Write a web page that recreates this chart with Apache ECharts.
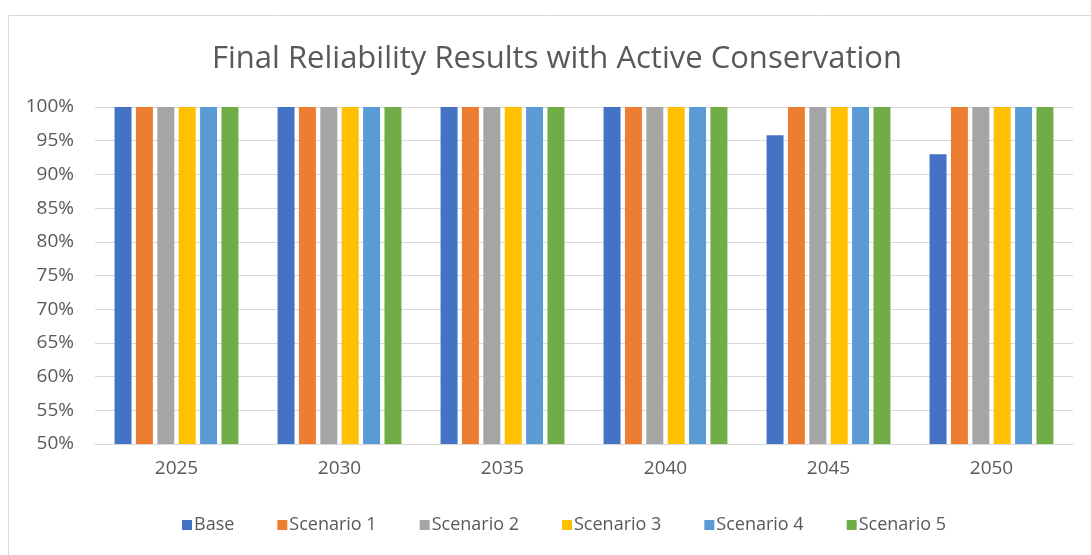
<!DOCTYPE html>
<html><head><meta charset="utf-8">
<script src="https://cdn.jsdelivr.net/npm/echarts@6/dist/echarts.min.js"></script>
<style>html,body{margin:0;padding:0;background:#fff}#c{width:1091px;height:555px}</style>
</head><body><div id="c"></div>
<script>
const categories = ['2025','2030','2035','2040','2045','2050'];
const seriesNames = ['Base','Scenario 1','Scenario 2','Scenario 3','Scenario 4','Scenario 5'];
const base = [1.00,1.00,1.00,1.00,0.958,0.930];
const scenario1 = [1,1,1,1,1,1];
const scenario2 = [1,1,1,1,1,1];
const scenario3 = [1,1,1,1,1,1];
const scenario4 = [1,1,1,1,1,1];
const scenario5 = [1,1,1,1,1,1];
const colors = ['#4472C4','#ED7D31','#A5A5A5','#FFC000','#5B9BD5','#70AD47'];
const allData = [base,scenario1,scenario2,scenario3,scenario4,scenario5];
const font = 'Open Sans';
const chart = echarts.init(document.getElementById('c'));
chart.setOption({
  animation:false,
  color:colors,
  title:{text:'Final Reliability Results with Active Conservation',left:207,top:39,
    textStyle:{fontFamily:font,fontSize:31,fontWeight:'normal',color:'#595959'}},
  graphic:[{type:'rect',shape:{x:8.5,y:15.5,width:1100,height:600},style:{fill:'none',stroke:'#d9d9d9',lineWidth:1},silent:true,z:-1}],
  legend:{top:511,left:177,itemWidth:10,itemHeight:10,itemGap:43,icon:'rect',
    textStyle:{fontFamily:font,fontSize:18,color:'#595959',padding:[0,0,0,-3]},data:seriesNames},
  grid:{left:95,right:18,top:107,height:337},
  xAxis:{type:'category',data:categories,axisTick:{show:false},
    axisLine:{lineStyle:{color:'#d9d9d9'}},
    axisLabel:{fontFamily:font,fontSize:19,color:'#595959',margin:15}},
  yAxis:{type:'value',min:0.5,max:1.0,interval:0.05,
    axisLabel:{fontFamily:font,fontSize:19,color:'#595959',margin:21,
      formatter:v=>Math.round(v*100)+'%'},
    splitLine:{lineStyle:{color:'#d9d9d9'}},axisLine:{show:false},axisTick:{show:false}},
  series:seriesNames.map((n,i)=>({name:n,type:'bar',data:allData[i],
    barGap:'26%',barCategoryGap:'24%'}))
});
</script></body></html>
